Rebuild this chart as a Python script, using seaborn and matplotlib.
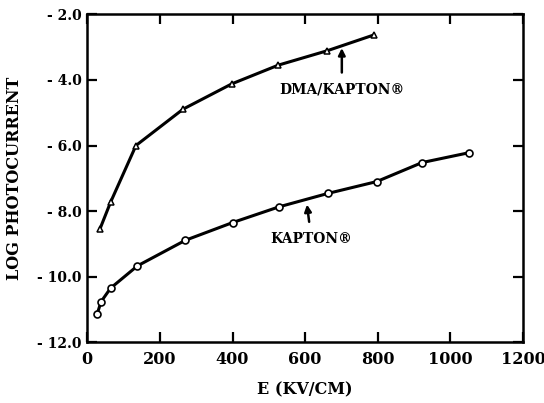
import matplotlib
matplotlib.use("Agg")
import matplotlib.pyplot as plt
import seaborn as sns
import pandas as pd

# Data
dma_e = [35, 64, 134, 264, 398, 526, 661, 789]
dma_log = [-8.54, -7.73, -6.00, -4.89, -4.12, -3.55, -3.11, -2.63]
kap_e = [27, 38, 64, 138, 270, 400, 528, 663, 797, 922, 1051]
kap_log = [-11.14, -10.76, -10.35, -9.67, -8.89, -8.35, -7.87, -7.46, -7.10, -6.52, -6.22]

x_ticks = [0, 200, 400, 600, 800, 1000, 1200]
y_ticks = [-2.0, -4.0, -6.0, -8.0, -10.0, -12.0]
y_ticklabels = ["- 2.0", "- 4.0", "- 6.0", "- 8.0", "- 10.0", "- 12.0"]

dma_label = "DMA/KAPTON®"
kap_label = "KAPTON®"
x_label = "E (KV/CM)"
y_label = "LOG PHOTOCURRENT"

sns.set_style("ticks")
plt.rcParams['font.family'] = ['DejaVu Serif', 'DejaVu Sans']
plt.rcParams['font.weight'] = 'bold'
for k in ['text.color', 'axes.labelcolor', 'xtick.color', 'ytick.color', 'axes.edgecolor']:
    plt.rcParams[k] = 'black'

fig = plt.figure(figsize=(5.44, 4.03), dpi=100)
ax = fig.add_axes([0.1605, 0.1506, 0.8009, 0.8139])

df_dma = pd.DataFrame({"E": dma_e, "L": dma_log})
df_kap = pd.DataFrame({"E": kap_e, "L": kap_log})

sns.lineplot(data=df_dma, x="E", y="L", ax=ax, color="black", lw=2.2,
             marker="^", markersize=4.5, markerfacecolor="white",
             markeredgecolor="black", markeredgewidth=1.1)
sns.lineplot(data=df_kap, x="E", y="L", ax=ax, color="black", lw=2.2,
             marker="o", markersize=5, markerfacecolor="white",
             markeredgecolor="black", markeredgewidth=1.2)

ax.set_xlim(0, 1200)
ax.set_ylim(-12, -2)
ax.set_xticks(x_ticks)
ax.set_xticklabels([str(t) for t in x_ticks], fontsize=11.5, fontweight="bold")
ax.set_yticks(y_ticks)
ax.set_yticklabels(y_ticklabels, fontsize=10, fontweight="bold")
ax.tick_params(direction="in", length=7, width=1.6, top=True, right=True, pad=4)
ax.tick_params(axis="x", pad=6)
for s in ax.spines.values():
    s.set_linewidth(1.8)
    s.set_visible(True)

ax.set_xlabel(x_label, fontsize=11.5, fontweight="bold", labelpad=10)
ax.set_ylabel(y_label, fontsize=11.5, fontweight="bold", labelpad=10)

ax.annotate(dma_label, xy=(701, -3.03), xytext=(701, -4.3),
            ha="center", va="center", fontsize=10, fontweight="bold",
            arrowprops=dict(arrowstyle="-|>", color="black", lw=1.8,
                            shrinkA=5, shrinkB=0, mutation_scale=10))
ax.annotate(kap_label, xy=(605, -7.8), xytext=(617, -8.85),
            ha="center", va="center", fontsize=10, fontweight="bold",
            arrowprops=dict(arrowstyle="-|>", color="black", lw=1.8,
                            shrinkA=5, shrinkB=0, mutation_scale=10))

fig.savefig("out.png", dpi=100)
